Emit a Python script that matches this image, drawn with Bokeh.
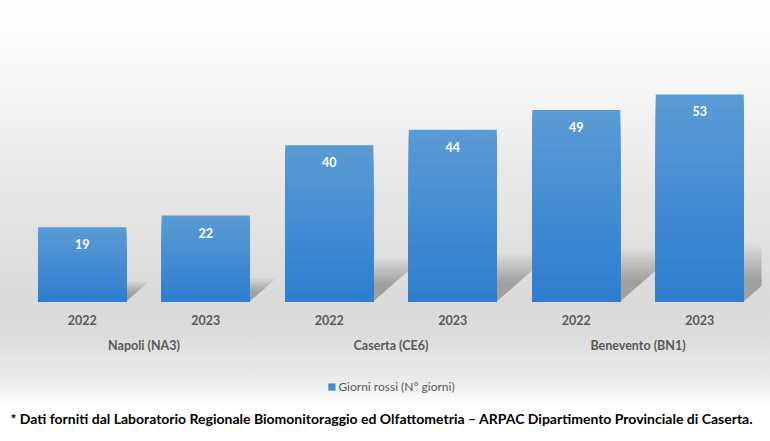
import numpy as np
from bokeh.plotting import figure
from bokeh.models import (FactorRange, Range1d, ColumnDataSource, Legend,
                          LegendItem, Title)
from bokeh.core.properties import value
from bokeh.embed import file_html
from bokeh.resources import INLINE

# ---------------- data ----------------
cities = ["Napoli (NA3)", "Caserta (CE6)", "Benevento (BN1)"]
years = ["2022", "2023"]
giorni_rossi = [19, 22, 40, 44, 49, 53]
series_name = "Giorni rossi (N° giorni)"
footnote = ("* Dati forniti dal Laboratorio Regionale Biomonitoraggio ed "
            "Olfattometria – ARPAC Dipartimento Provinciale di Caserta.")

factors = [(c, y) for c in cities for y in years]

# ---------------- layout constants ----------------
W, H = 770, 441
LEFT, RIGHT = 20, 9
BOTTOM = 36               # footnote panel
FRAME_H = H - BOTTOM
BASE_PX = 301             # baseline distance from the top of the figure
PX_PER_UNIT = 3.906
y_top = BASE_PX / PX_PER_UNIT
y_bot = -(FRAME_H - BASE_PX) / PX_PER_UNIT
SLOT_PX = (W - LEFT - RIGHT) / len(factors)
BAR_W = 88 / SLOT_PX
FONT = "Lato"
GREY = "#595959"

p = figure(width=W, height=H,
           x_range=FactorRange(*factors, factor_padding=0, group_padding=0,
                               subgroup_padding=0, range_padding=0),
           y_range=Range1d(y_bot, y_top),
           output_backend="svg", toolbar_location=None,
           x_axis_location=None, y_axis_location=None,
           min_border_left=LEFT, min_border_right=RIGHT,
           min_border_top=0, min_border_bottom=BOTTOM)
p.xgrid.visible = False
p.ygrid.visible = False
p.outline_line_color = None
p.background_fill_alpha = 0
p.border_fill_alpha = 0
p.styles = {"background": "linear-gradient(to bottom, #ffffff 0px, #fdfdfd 35px, "
                          "#f2f2f2 110px, #e6e6e6 195px, #dadada 300px, "
                          "#dcdcdc 335px, #ededed 385px, #ffffff 405px, #ffffff 441px)"}

# ---------------- soft perspective shadows (categorical coords + offsets) ----------------
hw = BAR_W / 2
for f in np.linspace(0.45, 1.1, 12):
    for (city, year), v in zip(factors, giorni_rossi):
        h = 0.25 * v * f
        s = 1.15 * h * PX_PER_UNIT / SLOT_PX
        p.patch(x=[(city, year, -hw), (city, year, hw),
                   (city, year, hw + s), (city, year, -hw + s)],
                y=[0, 0, h, h], fill_color="#000000", fill_alpha=0.022,
                line_color=None)

# ---------------- gradient bars (overlapping bands, no seams) ----------------
K = 30
top_rgb = np.array([91, 155, 213])
bot_rgb = np.array([46, 125, 207])
bx, bt, bc = [], [], []
for fac, v in zip(factors, giorni_rossi):
    for k in range(K):
        frac = (K - k) / K
        t = (K - k - 0.5) / K
        rgb = (bot_rgb + (top_rgb - bot_rgb) * t).round().astype(int)
        bx.append(fac)
        bt.append(v * frac)
        bc.append("#%02x%02x%02x" % tuple(rgb))
src = ColumnDataSource(dict(x=bx, top=bt, color=bc))
bars = p.vbar(x="x", bottom=0, top="top", width=BAR_W, source=src,
              fill_color="color", line_color=None)

# ---------------- labels ----------------
p.text(x=factors, y=giorni_rossi, text=[str(v) for v in giorni_rossi],
       text_align="center", text_baseline="middle", y_offset=17,
       text_color="white", text_font=value(FONT), text_font_style="bold",
       text_font_size="12.5px")
p.text(x=factors, y=[0] * len(factors), text=[f[1] for f in factors],
       text_align="center", text_baseline="middle", y_offset=18,
       text_color=GREY, text_font=value(FONT), text_font_style="bold",
       text_font_size="12.5px")
p.text(x=cities, y=[0] * len(cities), text=cities,
       text_align="center", text_baseline="middle", y_offset=44,
       text_color=GREY, text_font=value(FONT), text_font_style="bold",
       text_font_size="12.5px")

# ---------------- legend ----------------
legend = Legend(items=[LegendItem(label=series_name, renderers=[bars], index=K // 2)],
                location="bottom_center", orientation="horizontal",
                margin=FRAME_H - 394, padding=0, spacing=0, label_standoff=3,
                glyph_width=9, glyph_height=9, label_height=14,
                label_text_font=FONT, label_text_font_size="12px",
                label_text_color=GREY, background_fill_alpha=0,
                border_line_color=None)
p.add_layout(legend, "center")

# ---------------- footnote ----------------
p.add_layout(Title(text=footnote, align="left", offset=-(LEFT - 10), standoff=4,
                   text_font=FONT, text_font_style="bold",
                   text_font_size="14px", text_color="#000000"), "below")

open("out.html", "w").write(file_html(p, INLINE))
